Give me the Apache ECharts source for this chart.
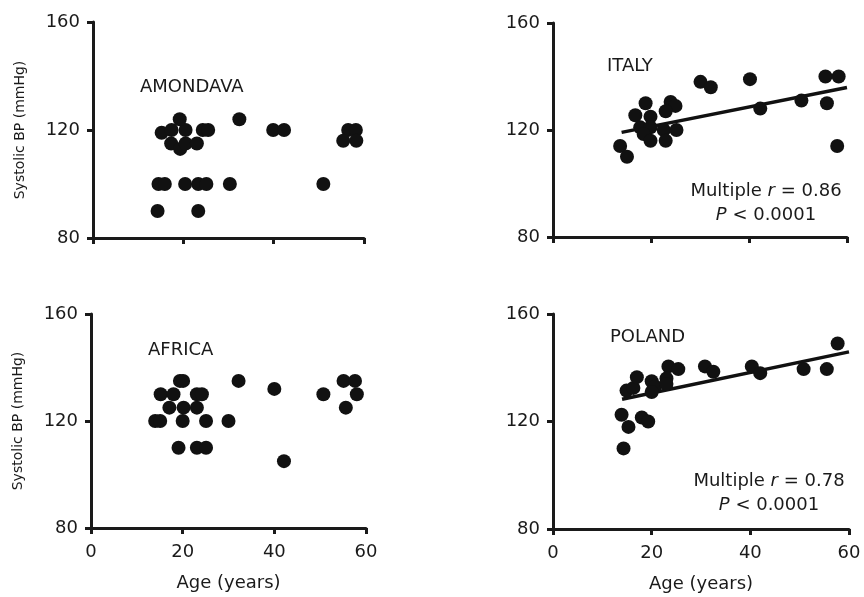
<!DOCTYPE html>
<html>
<head>
<meta charset="utf-8">
<script src="https://cdn.jsdelivr.net/npm/echarts@6/dist/echarts.min.js"></script>
<style>
html,body{margin:0;padding:0;background:#fff;}
#chart{width:864px;height:597px;}
</style>
</head>
<body>
<div id="chart"></div>
<script>
// ---- data: [age (years), systolic BP (mmHg)] ----
var AMONDAVA = [
  [14.3,90],[23.3,90],
  [14.5,100],[15.9,100],[20.4,100],[23.3,100],[25.1,100],[30.3,100],[51,100],
  [17.3,115],[19.3,113],[20.5,115],[23,115],
  [15.2,119],[17.4,120],[20.5,120],[19.2,124],[24.3,120],[25.5,120],
  [32.4,124],[39.9,120],[42.3,120],[56.5,120],[58.2,120],[55.4,116],[58.3,116]
];
var ITALY = [
  [13.7,114],[15.1,110],
  [16.8,125.5],[18.9,130],[19.9,125],[17.8,121],[19.9,121],[18.5,118.5],
  [22.6,120],[25.2,120],[19.9,116],[23,116],
  [24,130.5],[25,129],[23,127],
  [30.1,138],[32.2,136],[40.2,139],[42.3,128],[50.7,131],[55.6,140],[58.3,140],[55.9,130],[58,114]
];
var AFRICA = [
  [19.4,135],[20.1,135],[32.2,135],[40,132],[55.1,135],[57.6,135],[58,130],[50.7,130],[55.6,125],
  [15.2,130],[18,130],[23.1,130],[24.2,130],
  [17.1,125],[20.2,125],[23.1,125],
  [14,120],[15.1,120],[20,120],[25.1,120],[30,120],
  [19.1,110],[23.1,110],[25.1,110],[42.1,105]
];
var POLAND = [
  [14.3,110],[13.9,122.5],[15.3,118],[18,121.5],[19.3,120],
  [14.9,131.5],[16.3,132.5],[17,136.5],[20,135],[20.7,133],[20,131],
  [23.4,140.5],[25.4,139.5],[23,136],[23,134],
  [30.8,140.5],[32.5,138.5],[40.3,140.5],[42,138],[50.8,139.5],[55.5,139.5],[57.7,149]
];
var ITALY_FIT = [[14,119.1],[60,135.9]];
var POLAND_FIT = [[14,128.3],[60,145.9]];

var X_TICKS = [0,20,40,60];
var Y_TICKS = [80,120,160];
var PANEL_NAMES = ['AMONDAVA','ITALY','AFRICA','POLAND'];
var STATS = [['0.86','0.0001'],['0.78','0.0001']];
var Y_NAME = 'Systolic BP (mmHg)';
var X_NAME = 'Age (years)';

var FONT = '"DejaVu Sans", Verdana, sans-serif';
var INK = '#1a1a1a';

var grids = [
  {left:93, top:22, width:271, height:216},
  {left:553, top:23, width:294, height:214},
  {left:91, top:314, width:275, height:214},
  {left:553, top:314, width:296, height:215}
];

function xAxis(i, showLabels){
  return {
    gridIndex:i, type:'value', min:X_TICKS[0], max:X_TICKS[X_TICKS.length-1], interval:20,
    splitLine:{show:false},
    axisLine:{show:true, onZero:false, lineStyle:{color:INK, width:3}},
    axisTick:{show:true, inside:false, length:6, lineStyle:{color:INK, width:3}},
    axisLabel:{show:showLabels, margin:15, color:INK, fontSize:18, fontFamily:FONT},
    name: showLabels ? X_NAME : '',
    nameLocation:'middle', nameGap:46,
    nameTextStyle:{color:INK, fontSize:18, fontFamily:FONT}
  };
}
function yAxis(i, showName){
  return {
    gridIndex:i, type:'value', min:Y_TICKS[0], max:Y_TICKS[Y_TICKS.length-1], interval:40,
    splitLine:{show:false},
    axisLine:{show:true, onZero:false, lineStyle:{color:INK, width:3}},
    axisTick:{show:true, inside:false, length:6, lineStyle:{color:INK, width:3}},
    axisLabel:{show:true, margin:13, color:INK, fontSize:18, fontFamily:FONT},
    name: showName ? Y_NAME : '',
    nameLocation:'middle', nameGap:66, nameRotate:90,
    nameTextStyle:{color:INK, fontSize:14, fontFamily:FONT}
  };
}

function scatter(i, data){
  return {type:'scatter', xAxisIndex:i, yAxisIndex:i, data:data, symbol:'circle', symbolSize:14,
    itemStyle:{color:'#111', opacity:1}, z:3};
}
function fit(i, data){
  return {type:'line', xAxisIndex:i, yAxisIndex:i, data:data, symbol:'none',
    lineStyle:{color:'#111', width:3.5}, z:2};
}

function label(text, x, y){
  return {type:'text', x:x, y:y, z:10,
    style:{text:text, font:'18px '+FONT, fill:INK, textAlign:'left', textVerticalAlign:'middle', align:'left', verticalAlign:'middle'}};
}
function statText(r, p, cx, cy){
  var rich = {a:{font:'18px '+FONT, fill:INK, color:INK}, i:{font:'italic 18px '+FONT, fill:INK, color:INK}};
  return [
    {type:'text', x:cx, y:cy, z:10,
      style:{text:'{a|Multiple }{i|r}{a| = '+r+'}', fill:INK, textAlign:'center', textVerticalAlign:'middle', align:'center', verticalAlign:'middle', rich:rich}},
    {type:'text', x:cx, y:cy+24, z:10,
      style:{text:'{i|P}{a| < '+p+'}', fill:INK, textAlign:'center', textVerticalAlign:'middle', align:'center', verticalAlign:'middle', rich:rich}}
  ];
}

var chart = echarts.init(document.getElementById('chart'), null, {renderer:'canvas'});
chart.setOption({
  animation:false,
  backgroundColor:'#fff',
  grid: grids,
  xAxis:[xAxis(0,false), xAxis(1,false), xAxis(2,true), xAxis(3,true)],
  yAxis:[yAxis(0,true), yAxis(1,false), yAxis(2,true), yAxis(3,false)],
  series:[
    scatter(0, AMONDAVA),
    scatter(1, ITALY), fit(1, ITALY_FIT),
    scatter(2, AFRICA),
    scatter(3, POLAND), fit(3, POLAND_FIT)
  ],
  graphic: [
    label(PANEL_NAMES[0], 140, 87),
    label(PANEL_NAMES[1], 607, 66),
    label(PANEL_NAMES[2], 148, 350),
    label(PANEL_NAMES[3], 610, 337)
  ].concat(statText(STATS[0][0], STATS[0][1], 766, 191))
   .concat(statText(STATS[1][0], STATS[1][1], 769, 481))
});
</script>
</body>
</html>
